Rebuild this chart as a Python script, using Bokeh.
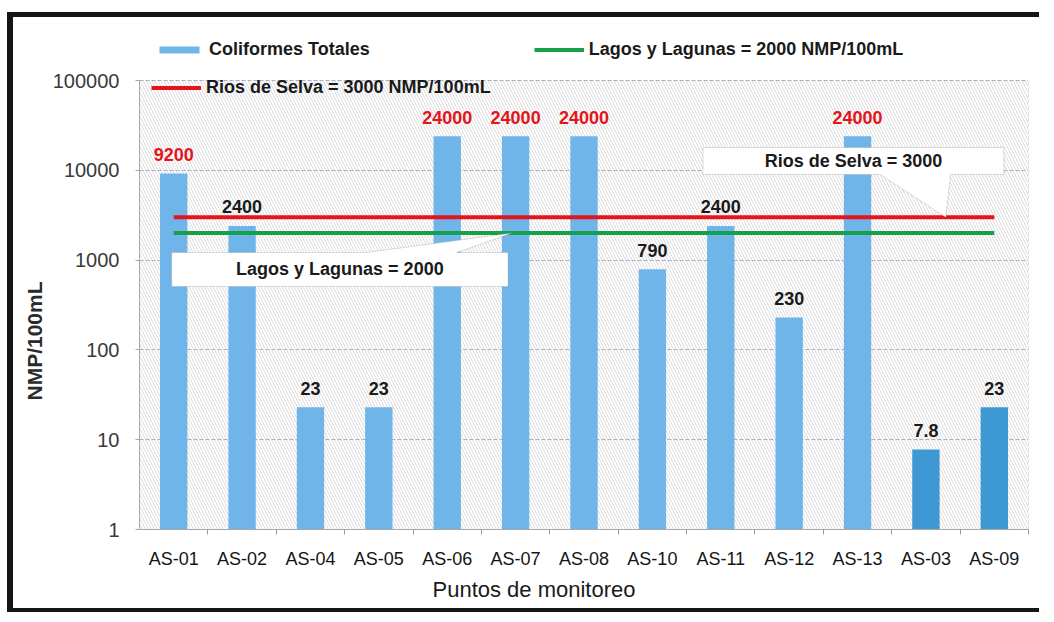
import math
import numpy as np
from bokeh.plotting import figure
from bokeh.models import (ColumnDataSource, Range1d, FixedTicker, PrintfTickFormatter,
                          BoxAnnotation, PolyAnnotation, Label, Legend, LegendItem, Title)
from bokeh.embed import file_html
from bokeh.resources import INLINE
from bokeh.core.properties import value

# ---------------- data ----------------
puntos = ["AS-01", "AS-02", "AS-04", "AS-05", "AS-06", "AS-07", "AS-08",
          "AS-10", "AS-11", "AS-12", "AS-13", "AS-03", "AS-09"]
coliformes = [9200, 2400, 23, 23, 24000, 24000, 24000, 790, 2400, 230, 24000, 7.8, 23]
lim_lagos = 2000
lim_rios = 3000
y_ticks = [1, 10, 100, 1000, 10000, 100000]
serie_nombre = "Coliformes Totales"
lagos_nombre = "Lagos y Lagunas = 2000 NMP/100mL"
rios_nombre = "Rios de Selva = 3000 NMP/100mL"
lagos_callout = "Lagos y Lagunas = 2000"
rios_callout = "Rios de Selva = 3000"
x_titulo = "Puntos de monitoreo"
y_titulo = "NMP/100mL"

# ---------------- styles ----------------
FONT_NAME = "Liberation Sans"
FONT = value(FONT_NAME)
bar_colors = ["#6FB5EA"] * 11 + ["#3E98D4", "#3E98D4"]
RED = "#E3141B"
GREEN = "#17A04A"
GRID = "#A9AFCB"

n = len(puntos)
centers = list(np.arange(n) + 0.5)
bounds_x = list(np.arange(1, n + 1))
labels = [("%g" % v) for v in coliformes]
label_colors = [RED if v > lim_rios else "#1A1A1A" for v in coliformes]
y_lo, y_hi = y_ticks[0], y_ticks[-1]
# frame extends 45 px above the top decade (decade = 89.8 px) to hold the legend
y_top = 10 ** (math.log10(y_hi) + 45 / 89.8)

src = ColumnDataSource(dict(x=centers, val=coliformes, color=bar_colors,
                            lbl=labels, lcol=label_colors))

p = figure(width=1032, height=600, x_range=Range1d(0, n), y_range=Range1d(y_lo, y_top),
           y_axis_type="log", output_backend="svg", toolbar_location=None,
           min_border_left=126, min_border_right=17, min_border_top=18, min_border_bottom=88)
p.styles = {"border-top": "5px solid #151515", "border-left": "6px solid #151515",
            "border-bottom": "4px solid #151515", "margin-top": "12px", "margin-left": "7px"}
p.background_fill_color = "white"
p.border_fill_color = "white"
p.outline_line_color = None

# axes
xa = p.xaxis[0]
xa.ticker = FixedTicker(ticks=centers, minor_ticks=bounds_x)
xa.major_label_overrides = {c: name for c, name in zip(centers, puntos)}
xa.major_tick_line_color = None
xa.major_tick_out = 0
xa.minor_tick_out = 5
xa.minor_tick_in = 0
xa.minor_tick_line_color = "#9A9A9A"
xa.axis_line_color = "#A8A8A8"
xa.major_label_standoff = 14
xa.major_label_text_font = FONT_NAME
xa.major_label_text_font_size = "18px"
xa.major_label_text_color = "#151515"

ya = p.yaxis[0]
ya.ticker = FixedTicker(ticks=y_ticks)
ya.formatter = PrintfTickFormatter(format="%d")
ya.bounds = (y_lo, y_hi)
ya.major_tick_out = 4
ya.major_tick_in = 0
ya.minor_tick_line_color = None
ya.major_tick_line_color = "#A8A8A8"
ya.axis_line_color = "#A8A8A8"
ya.major_label_standoff = 16
ya.major_label_text_font = FONT_NAME
ya.major_label_text_font_size = "20px"
ya.major_label_text_color = "#3A3A3A"

# axis titles (placed like the original, which is not centred on the plot area)
p.add_layout(Title(text=x_titulo, align="left", offset=293, standoff=6,
                   text_font=FONT_NAME, text_font_size="22px", text_font_style="normal",
                   text_color="#1A1A1A"), "below")
p.add_layout(Title(text=y_titulo, align="left", offset=129, standoff=8,
                   text_font=FONT_NAME, text_font_size="21px", text_font_style="bold",
                   text_color="#2A2A2A"), "left")

# grids
p.xgrid.visible = False
p.ygrid.ticker = FixedTicker(ticks=y_ticks)
p.ygrid.grid_line_color = GRID
p.ygrid.grid_line_dash = "4 2"

# hatched plot area (only up to the top decade)
bg = BoxAnnotation(top=y_hi, fill_color="white", fill_alpha=1, line_color=None,
                   hatch_pattern="left_diagonal_line", hatch_color="#CBCBCB",
                   hatch_scale=6, hatch_weight=0.7, level="underlay")
p.center = [bg] + list(p.center)

# vertical grid lines at category boundaries (plus right edge)
p.segment(x0=bounds_x, y0=[y_lo] * n, x1=bounds_x, y1=[y_hi] * n,
          line_color=GRID, line_dash="4 2", line_width=1, level="underlay")

# bars
r_bars = p.vbar(x="x", top="val", bottom=y_lo, width=0.4, fill_color="color",
                line_color=None, source=src)

# threshold lines
r_green = p.line(x=[centers[0], centers[-1]], y=[lim_lagos, lim_lagos],
                 line_color=GREEN, line_width=4)
r_red = p.line(x=[centers[0], centers[-1]], y=[lim_rios, lim_rios],
               line_color=RED, line_width=4)

# value labels
p.text(x="x", y="val", text="lbl", text_color="lcol", source=src,
       text_font=FONT, text_font_style="bold", text_font_size="18px",
       text_align="center", text_baseline="alphabetic", y_offset=-19)

# callouts
lag = PolyAnnotation(xs=[0.47, 3.32, 5.45, 4.64, 5.39, 5.39, 0.47],
                     ys=[1216, 1216, lim_lagos, 1216, 1216, 508, 508],
                     fill_color="white", fill_alpha=1, line_color="#8C8C8C", line_width=1)
p.add_layout(lag)
p.add_layout(Label(x=2.93, y=math.sqrt(1216 * 508), text=lagos_callout,
                   text_align="center", text_baseline="middle", text_font=FONT_NAME,
                   text_font_size="18px", text_font_style="bold", text_color="#1A1A1A"))

rio = PolyAnnotation(xs=[8.24, 12.64, 12.64, 11.86, 11.79, 10.83, 8.24],
                     ys=[17950, 17950, 8980, 8980, lim_rios, 8980, 8980],
                     fill_color="white", fill_alpha=1, line_color="#8C8C8C", line_width=1)
p.add_layout(rio)
p.add_layout(Label(x=10.44, y=math.sqrt(17950 * 8980), text=rios_callout,
                   text_align="center", text_baseline="middle", text_font=FONT_NAME,
                   text_font_size="18px", text_font_style="bold", text_color="#1A1A1A"))

# legends
common = dict(glyph_width=50, glyph_height=9, label_standoff=5, margin=0, padding=0,
              border_line_color=None, background_fill_alpha=0,
              label_text_font=FONT_NAME, label_text_font_size="18px",
              label_text_font_style="bold", label_text_color="#1A1A1A", label_height=20)
leg1 = Legend(items=[LegendItem(label=serie_nombre, renderers=[r_bars], index=0),
                     LegendItem(label=lagos_nombre, renderers=[r_green])],
              orientation="horizontal", location=(15, 469), spacing=164, **common)
leg2 = Legend(items=[LegendItem(label=rios_nombre, renderers=[r_red])],
              orientation="horizontal", location=(12, 431), **common)
p.add_layout(leg1)
p.add_layout(leg2)

open("out.html", "w").write(file_html(p, INLINE))
